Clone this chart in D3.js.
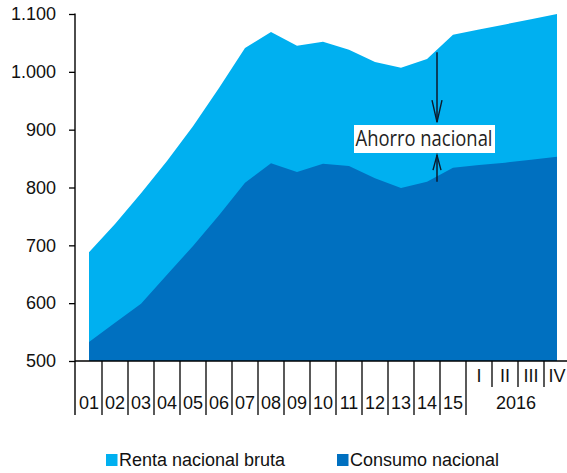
<!DOCTYPE html>
<html>
<head>
<meta charset="utf-8">
<script src="https://cdn.jsdelivr.net/npm/d3@7"></script>
<style>
  html, body { margin: 0; padding: 0; background: #fff; }
  svg { display: block; }
</style>
</head>
<body>
<svg id="chart" width="567" height="473"></svg>
<script>
// ---- Data ----
const categories = ["01","02","03","04","05","06","07","08","09","10","11","12","13","14","15","I","II","III","IV"];
const yearLabels = ["01","02","03","04","05","06","07","08","09","10","11","12","13","14","15"];
const quarterLabels = ["I","II","III","IV"];
const groupLabel = "2016";
const rentaNacionalBruta = [688, 737, 790, 846, 906, 972, 1041, 1069, 1045, 1052, 1038, 1017, 1007, 1022, 1064, 1073, 1082, 1091, 1100];
const consumoNacional   = [533, 566, 599, 649, 699, 752, 808, 842, 827, 841, 837, 816, 799, 810, 834, 839, 843, 848, 853];
const yTicks = [500, 600, 700, 800, 900, 1000, 1100];
const seriesNames = ["Renta nacional bruta", "Consumo nacional"];
const annotation = { text: "Ahorro nacional", topFrom: 1034, topTo: 913, botFrom: 810, botTo: 856 };

// ---- Setup ----
const svg = d3.select("#chart");
const colLight = "#00B0F0", colDark = "#0070C0";
const axisX = 75, baseY = 361, topY = 14;

const x = d3.scaleBand().domain(categories).range([76, 570]).paddingInner(0).paddingOuter(0);
const cx = c => x(c) + x.bandwidth() / 2;
const y = d3.scaleLinear().domain([500, 1100]).range([baseY, topY]);

const rows = categories.map((c, i) => ({ c, top: rentaNacionalBruta[i], bot: consumoNacional[i] }));

// Areas
svg.append("path").datum(rows)
  .attr("fill", colLight)
  .attr("d", d3.area().x(d => cx(d.c)).y0(y(500)).y1(d => y(d.top)));
svg.append("path").datum(rows)
  .attr("fill", colDark)
  .attr("d", d3.area().x(d => cx(d.c)).y0(y(500)).y1(d => y(d.bot)));

// Y axis
const yAxis = d3.axisLeft(y).tickValues(yTicks).tickSize(6).tickPadding(13)
  .tickFormat(d => d3.format(",")(d).replace(/,/g, "."));
const gy = svg.append("g").attr("transform", `translate(${axisX},0)`).call(yAxis);
gy.select(".domain").remove();
gy.selectAll(".tick line").attr("stroke", "#000").attr("stroke-width", 1.3);
gy.selectAll(".tick text").attr("font-family", "Liberation Sans, Arial, sans-serif")
  .attr("font-size", 18).attr("fill", "#111");
svg.append("line").attr("x1", axisX).attr("x2", axisX).attr("y1", topY - 0.5).attr("y2", 415)
  .attr("stroke", "#000").attr("stroke-width", 1.4);

// X baseline
svg.append("line").attr("x1", axisX).attr("x2", 567).attr("y1", baseY).attr("y2", baseY)
  .attr("stroke", "#000").attr("stroke-width", 1.4);

// Dividers
const bounds = categories.map(c => x(c)).concat([x.range()[1]]);
bounds.forEach((bx, i) => {
  if (i === 0) return;
  const isQuarterInner = i > yearLabels.length && i < categories.length;
  svg.append("line").attr("x1", bx).attr("x2", bx).attr("y1", baseY).attr("y2", isQuarterInner ? 387 : 415)
    .attr("stroke", "#000").attr("stroke-width", 1.3);
});

// Year labels
svg.append("g").selectAll("text").data(yearLabels).join("text")
  .attr("x", d => cx(d)).attr("y", 409).attr("text-anchor", "middle")
  .attr("font-family", "Liberation Sans, Arial, sans-serif").attr("font-size", 18).attr("fill", "#111")
  .text(d => d);
// Quarter labels
svg.append("g").selectAll("text").data(quarterLabels).join("text")
  .attr("x", d => cx(d)).attr("y", 382).attr("text-anchor", "middle")
  .attr("font-family", "Liberation Sans, Arial, sans-serif").attr("font-size", 18).attr("fill", "#111")
  .text(d => d);
// Group label
svg.append("text")
  .attr("x", (x(quarterLabels[0]) + x(quarterLabels[3]) + x.bandwidth()) / 2 - 2).attr("y", 409)
  .attr("text-anchor", "middle")
  .attr("font-family", "Liberation Sans, Arial, sans-serif").attr("font-size", 18).attr("fill", "#111")
  .text(groupLabel);

// Annotation
const ax = cx("14") + 10;
const annCol = "#0b1a2c";
svg.append("line").attr("x1", ax).attr("x2", ax).attr("y1", y(annotation.topFrom)).attr("y2", y(annotation.topTo))
  .attr("stroke", annCol).attr("stroke-width", 1.5);
svg.append("path")
  .attr("d", `M${ax - 5},${y(annotation.topTo) - 22} L${ax},${y(annotation.topTo)} L${ax + 5},${y(annotation.topTo) - 22}`)
  .attr("fill", "none").attr("stroke", annCol).attr("stroke-width", 1.4);
svg.append("line").attr("x1", ax).attr("x2", ax).attr("y1", y(annotation.botFrom)).attr("y2", y(annotation.botTo))
  .attr("stroke", annCol).attr("stroke-width", 1.5);
svg.append("path")
  .attr("d", `M${ax - 4},${y(annotation.botTo) + 15} L${ax},${y(annotation.botTo)} L${ax + 4},${y(annotation.botTo) + 15}`)
  .attr("fill", "none").attr("stroke", annCol).attr("stroke-width", 1.4);

svg.append("rect").attr("x", 354).attr("y", 125).attr("width", 141).attr("height", 28).attr("fill", "#fff");
svg.append("text").attr("x", 355.5).attr("y", 146)
  .attr("font-family", "Open Sans, Noto Sans, sans-serif").attr("font-size", 21).attr("fill", "#222")
  .attr("textLength", 137).attr("lengthAdjust", "spacingAndGlyphs")
  .text(annotation.text);

// Legend
const legend = [
  { name: seriesNames[0], color: colLight, x: 106 },
  { name: seriesNames[1], color: colDark, x: 337 }
];
legend.forEach(l => {
  svg.append("rect").attr("x", l.x).attr("y", 454).attr("width", 11.5).attr("height", 12).attr("fill", l.color);
  svg.append("text").attr("x", l.x + 13).attr("y", 466)
    .attr("font-family", "Liberation Sans, Arial, sans-serif").attr("font-size", 18).attr("fill", "#111")
    .text(l.name);
});
</script>
</body>
</html>
